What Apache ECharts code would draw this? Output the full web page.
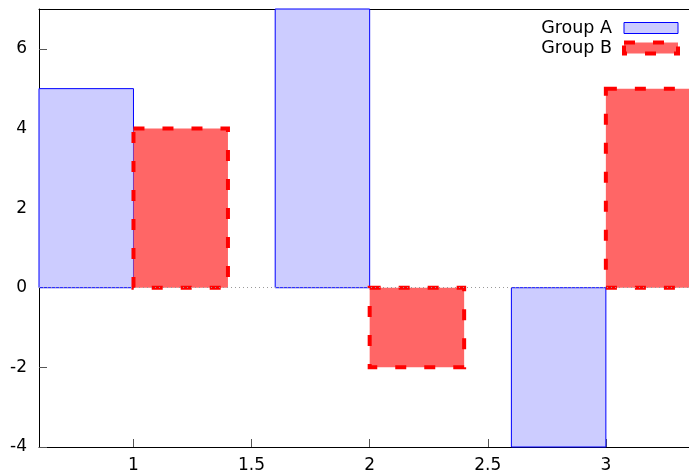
<!DOCTYPE html>
<html>
<head>
<meta charset="utf-8">
<script src="https://cdn.jsdelivr.net/npm/echarts@6/dist/echarts.min.js"></script>
<style>html,body{margin:0;padding:0;background:#fff}#c{width:689px;height:476px}</style>
</head>
<body>
<div id="c"></div>
<script>
const xPositions = [1, 2, 3];
const groupA = [5, 7, -4];
const groupB = [4, -2, 5];
const xTicks = [1, 1.5, 2, 2.5, 3];
const yTicks = [-4, -2, 0, 2, 4, 6];
const seriesNames = ['Group A', 'Group B'];

const BAR_W = 0.4;
const FONT = 'DejaVu Sans';

function makeRender(offset, fill, stroke, lw, dash) {
  return function (params, api) {
    const x = api.value(0), y = api.value(1);
    const p0 = api.coord([x + offset, 0]);
    const p1 = api.coord([x + offset + BAR_W, y]);
    return {
      type: 'rect',
      shape: {
        x: Math.min(p0[0], p1[0]), y: Math.min(p0[1], p1[1]),
        width: Math.abs(p1[0] - p0[0]), height: Math.abs(p1[1] - p0[1])
      },
      style: { fill: fill, stroke: stroke, lineWidth: lw, lineDash: dash }
    };
  };
}

const chart = echarts.init(document.getElementById('c'), null, { renderer: 'canvas' });
chart.setOption({
  animation: false,
  backgroundColor: '#fff',
  grid: { left: 39, top: 9, right: 0, bottom: 29, containLabel: false },
  legend: {
    orient: 'vertical', right: 9, top: 18, align: 'right', padding: 0,
    itemWidth: 54, itemHeight: 11, itemGap: 0,
    textStyle: { fontFamily: FONT, fontSize: 17.5, lineHeight: 20, color: '#000', padding: [0, 7, 0, 0] },
    data: [
      { name: seriesNames[0], icon: 'rect', itemStyle: { color: '#ccccff', borderColor: '#0000ff', borderWidth: 1 } },
      { name: seriesNames[1], icon: 'rect', itemStyle: { color: '#ff6666', borderColor: '#ff0000', borderWidth: 4, borderType: [11, 18] } }
    ]
  },
  xAxis: [{
    type: 'value', min: 0.6, max: 3.352, position: 'bottom',
    splitLine: { show: false },
    axisLine: { show: true, onZero: false, lineStyle: { color: '#000', width: 1 } },
    axisTick: { show: true, inside: true, length: 8, customValues: xTicks, lineStyle: { color: '#555' } },
    axisLabel: { customValues: xTicks, margin: 10, fontFamily: FONT, fontSize: 17, color: '#000' }
  }, {
    type: 'value', min: 0.6, max: 3.352, position: 'top',
    splitLine: { show: false },
    axisLine: { show: true, onZero: false, lineStyle: { color: '#000', width: 1 } },
    axisTick: { show: false }, axisLabel: { show: false }
  }],
  yAxis: {
    type: 'value', min: -4, max: 7,
    splitLine: { show: false },
    axisLine: { show: true, onZero: false, lineStyle: { color: '#000', width: 1 } },
    axisTick: { show: true, inside: true, length: 8, customValues: yTicks, lineStyle: { color: '#555' } },
    axisLabel: { customValues: yTicks, margin: 12, fontFamily: FONT, fontSize: 17, color: '#000' }
  },
  series: [
    {
      name: seriesNames[0], type: 'custom', xAxisIndex: 0,
      itemStyle: { color: '#ccccff', borderColor: '#0000ff' },
      renderItem: makeRender(-BAR_W, '#ccccff', '#0000ff', 1, null),
      data: xPositions.map((x, i) => [x, groupA[i]]),
      markLine: {
        silent: true, symbol: 'none', label: { show: false },
        lineStyle: { color: '#999', type: [1, 3], width: 1 },
        data: [{ yAxis: 0 }]
      },
      z: 2
    },
    {
      name: seriesNames[1], type: 'custom', xAxisIndex: 0,
      itemStyle: { color: '#ff6666', borderColor: '#ff0000' },
      renderItem: makeRender(0, '#ff6666', '#ff0000', 4, [11, 18]),
      data: xPositions.map((x, i) => [x, groupB[i]]),
      z: 3
    }
  ]
});
</script>
</body>
</html>
